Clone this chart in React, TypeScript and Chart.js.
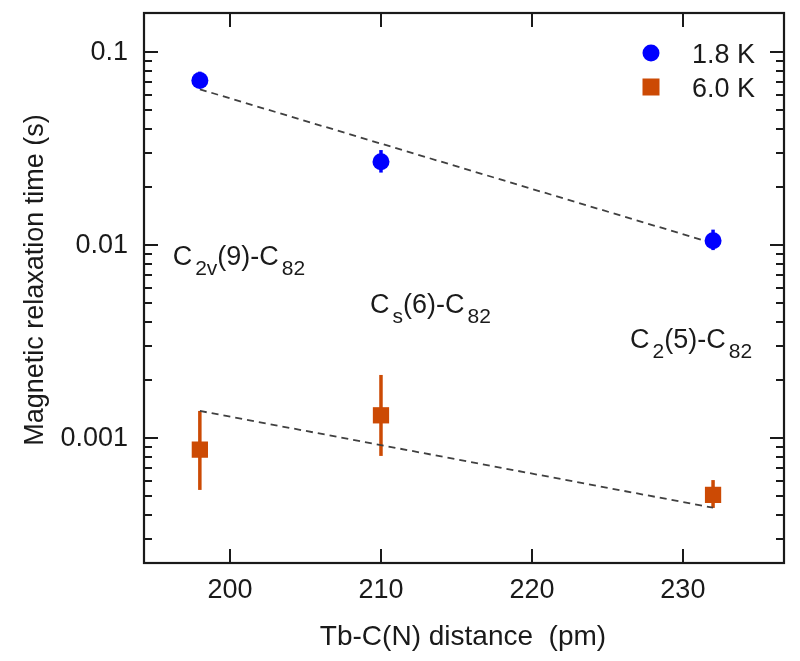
import { useEffect, useRef } from "react";
import { Chart, registerables } from "chart.js";

Chart.register(...registerables);

// ---- data ----
const distances = [198, 210, 232];
const tau18 = [0.071, 0.027, 0.0105];
const tau18Lo = [0.065, 0.0237, 0.0094];
const tau18Hi = [0.079, 0.031, 0.012];
const tau60 = [0.00087, 0.00131, 0.000507];
const tau60Lo = [0.000538, 0.000807, 0.000434];
const tau60Hi = [0.00138, 0.00212, 0.000605];
const fitX = [198, 232];
const fit18 = [0.064, 0.0102];
const fit60 = [0.00138, 0.000435];
const xTicks = [200, 210, 220, 230];
const yTickValues = [0.1, 0.01, 0.001];
const yTickLabels = ["0.1", "0.01", "0.001"];
const seriesLabels = ["1.8 K", "6.0 K"];
const xTitle = "Tb-C(N) distance  (pm)";
const yTitle = "Magnetic relaxation time (s)";
// cage isomer labels: [text, isSubscript]
const cageLabels: [string, boolean][][] = [
  [["C", false], ["2v", true], ["(9)-C", false], ["82", true]],
  [["C", false], ["s", true], ["(6)-C", false], ["82", true]],
  [["C", false], ["2", true], ["(5)-C", false], ["82", true]],
];
const cageX = [196.2, 209.27, 226.5];
const cageY = [0.00787, 0.00445, 0.00292];

const BLUE = "#0000FF";
const ORANGE = "#CC4A04";
const INK = "#1a1a1a";
const FONT = "'Liberation Sans', Arial, sans-serif";

const plot = {
  id: "sciPlot",
  beforeDatasetsDraw(chart: any) {
    const ctx = chart.ctx;
    const xs = chart.scales.x;
    const ys = chart.scales.y;
    const drawErr = (lo: number[], hi: number[], color: string) => {
      ctx.save();
      ctx.strokeStyle = color;
      ctx.lineWidth = 3.5;
      distances.forEach((d, i) => {
        const px = xs.getPixelForValue(d);
        ctx.beginPath();
        ctx.moveTo(px, ys.getPixelForValue(lo[i]));
        ctx.lineTo(px, ys.getPixelForValue(hi[i]));
        ctx.stroke();
      });
      ctx.restore();
    };
    drawErr(tau18Lo, tau18Hi, BLUE);
    drawErr(tau60Lo, tau60Hi, ORANGE);
  },
  afterDraw(chart: any) {
    const ctx = chart.ctx;
    const a = chart.chartArea;
    const xs = chart.scales.x;
    const ys = chart.scales.y;
    ctx.save();
    // frame
    ctx.strokeStyle = INK;
    ctx.lineWidth = 2.2;
    ctx.strokeRect(a.left, a.top, a.right - a.left, a.bottom - a.top);
    // x ticks (bottom & top, inward)
    ctx.lineWidth = 2;
    ctx.beginPath();
    xTicks.forEach((t) => {
      const px = Math.round(xs.getPixelForValue(t));
      ctx.moveTo(px, a.bottom);
      ctx.lineTo(px, a.bottom - 14);
      ctx.moveTo(px, a.top);
      ctx.lineTo(px, a.top + 14);
    });
    // y ticks (log, major + minor)
    for (let e = -5; e <= 0; e++) {
      for (let m = 1; m <= 9; m++) {
        const v = m * Math.pow(10, e);
        if (v < ys.min || v > ys.max) continue;
        const py = Math.round(ys.getPixelForValue(v));
        const len = m === 1 ? 14 : 8;
        ctx.moveTo(a.left, py);
        ctx.lineTo(a.left + len, py);
        ctx.moveTo(a.right, py);
        ctx.lineTo(a.right - len, py);
      }
    }
    ctx.stroke();

    ctx.fillStyle = INK;
    // x tick labels
    ctx.font = `27px ${FONT}`;
    ctx.textAlign = "center";
    ctx.textBaseline = "alphabetic";
    xTicks.forEach((t) => {
      ctx.fillText(String(t), xs.getPixelForValue(t), a.bottom + 35);
    });
    // y tick labels
    ctx.textAlign = "right";
    ctx.textBaseline = "middle";
    yTickValues.forEach((v, i) => {
      ctx.fillText(yTickLabels[i], a.left - 16, ys.getPixelForValue(v) + 1);
    });
    // axis titles
    ctx.font = `28px ${FONT}`;
    ctx.textAlign = "center";
    ctx.textBaseline = "alphabetic";
    ctx.fillText(xTitle, (a.left + a.right) / 2 - 1, a.bottom + 82);
    ctx.save();
    ctx.translate(43, (a.top + a.bottom) / 2 - 8);
    ctx.rotate(-Math.PI / 2);
    ctx.font = `27px ${FONT}`;
    ctx.fillText(yTitle, 0, 0);
    ctx.restore();

    // cage labels with subscripts
    ctx.textAlign = "left";
    ctx.textBaseline = "alphabetic";
    cageLabels.forEach((parts, i) => {
      let x = xs.getPixelForValue(cageX[i]);
      const y = ys.getPixelForValue(cageY[i]);
      parts.forEach(([txt, sub]) => {
        ctx.font = sub ? `21px ${FONT}` : `27px ${FONT}`;
        if (sub) x += 3;
        ctx.fillText(txt, x, sub ? y + 10 : y);
        x += ctx.measureText(txt).width;
      });
    });

    // legend
    ctx.font = `27px ${FONT}`;
    const lx = a.right - 133;
    const tx = a.right - 92;
    ctx.fillStyle = BLUE;
    ctx.beginPath();
    ctx.arc(lx, a.top + 40, 8.5, 0, Math.PI * 2);
    ctx.fill();
    ctx.fillStyle = ORANGE;
    ctx.fillRect(lx - 8.5, a.top + 74 - 8.5, 17, 17);
    ctx.fillStyle = INK;
    ctx.textBaseline = "alphabetic";
    ctx.fillText(seriesLabels[0], tx, a.top + 50);
    ctx.fillText(seriesLabels[1], tx, a.top + 84);
    ctx.restore();
  },
};

export default function App() {
  const ref = useRef<HTMLCanvasElement | null>(null);
  useEffect(() => {
    if (!ref.current) return;
    const pts = (ys: number[]) => distances.map((d, i) => ({ x: d, y: ys[i] }));
    const fit = (ys: number[]) => fitX.map((d, i) => ({ x: d, y: ys[i] }));
    const chart = new Chart(ref.current, {
      type: "scatter",
      data: {
        datasets: [
          {
            label: seriesLabels[0],
            data: pts(tau18),
            pointStyle: "circle",
            pointRadius: 8.5,
            backgroundColor: BLUE,
            borderColor: BLUE,
            borderWidth: 0,
            order: 1,
          },
          {
            label: seriesLabels[1],
            data: pts(tau60),
            pointStyle: "rect",
            pointRadius: 11.5,
            backgroundColor: ORANGE,
            borderColor: ORANGE,
            borderWidth: 0,
            order: 1,
          },
          {
            label: "fit 1.8 K",
            data: fit(fit18),
            showLine: true,
            pointRadius: 0,
            borderColor: "#404040",
            borderWidth: 1.8,
            borderDash: [7, 5],
            order: 2,
          },
          {
            label: "fit 6.0 K",
            data: fit(fit60),
            showLine: true,
            pointRadius: 0,
            borderColor: "#404040",
            borderWidth: 1.8,
            borderDash: [7, 5],
            order: 2,
          },
        ],
      },
      options: {
        animation: false,
        responsive: false,
        devicePixelRatio: 1,
        layout: { padding: { left: 144, top: 13, right: 16, bottom: 98 } },
        scales: {
          x: { type: "linear", min: 194.3, max: 236.7, display: false },
          y: { type: "logarithmic", min: 0.000225, max: 0.159, display: false },
        },
        plugins: { legend: { display: false }, tooltip: { enabled: false } },
      },
      plugins: [plot],
    });
    return () => chart.destroy();
  }, []);
  return (
    <div style={{ position: "absolute", left: 0, top: 0, width: 800, height: 661, background: "#fff" }}>
      <canvas ref={ref} width={800} height={661} style={{ width: 800, height: 661 }} />
    </div>
  );
}
